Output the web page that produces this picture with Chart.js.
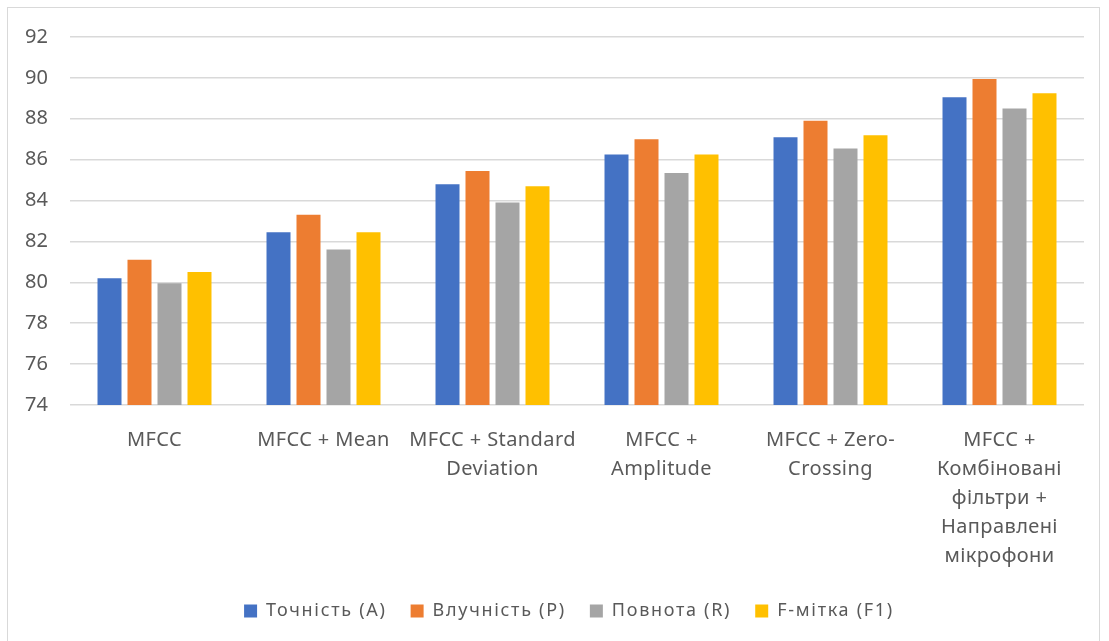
<!DOCTYPE html>
<html>
<head>
<meta charset="utf-8">
<script src="https://cdn.jsdelivr.net/npm/chart.js@4.4.1/dist/chart.umd.min.js"></script>
<style>
  html, body { margin: 0; padding: 0; background: #ffffff; }
  #wrap { position: relative; width: 1109px; height: 641px; overflow: hidden; }
  #frame { position: absolute; left: 7px; top: 7px; width: 1093px; height: 660px; border: 1px solid #d9d9d9; box-sizing: border-box; }
  canvas { position: absolute; left: 0; top: 0; }
</style>
</head>
<body>
<div id="wrap">
  <div id="frame"></div>
  <canvas id="c" width="1109" height="641"></canvas>
</div>
<script>
// Feature sets compared on the x axis
const categories = [
  ['MFCC'],
  ['MFCC + Mean'],
  ['MFCC + Standard', 'Deviation'],
  ['MFCC +', 'Amplitude'],
  ['MFCC + Zero-', 'Crossing'],
  ['MFCC +', 'Комбіновані', 'фільтри +', 'Направлені', 'мікрофони']
];

// Metric values (%) per feature set
const accuracy  = [80.2, 82.45, 84.8, 86.25, 87.1, 89.05];
const precision = [81.1, 83.3, 85.45, 87.0, 87.9, 89.95];
const recall    = [79.95, 81.6, 83.9, 85.35, 86.55, 88.5];
const f1score   = [80.5, 82.45, 84.7, 86.25, 87.2, 89.25];

const seriesNames = ['Точність (A)', 'Влучність (P)', 'Повнота (R)', 'F-мітка (F1)'];
const seriesColors = ['#4472C4', '#ED7D31', '#A5A5A5', '#FFC000'];

// y axis range and step
const yMin = 74, yMax = 92, yStep = 2;

const FONT = '"Noto Sans", sans-serif';
const TEXT = '#595959';
const LEGEND_SPACING = '1.7px';
const LEGEND_SHIFT = -8;

const seriesData = [accuracy, precision, recall, f1score];

// Draw a scale's labels with its own letter spacing
function spacedLabels(scale, spacing) {
  if (scale._spaced) return;
  scale._spaced = true;
  const orig = scale.drawLabels.bind(scale);
  scale.drawLabels = (area) => {
    const ctx = scale.ctx;
    const prev = ctx.letterSpacing;
    ctx.letterSpacing = spacing;
    orig(area);
    ctx.letterSpacing = prev;
  };
}

// Wider tracking for the legend text (measured and drawn), legend nudged left
const legendTweaks = {
  id: 'legendTweaks',
  beforeLayout(chart) { chart.ctx.letterSpacing = LEGEND_SPACING; },
  afterLayout(chart) {
    if (chart.legend) {
      chart.legend.left += LEGEND_SHIFT;
      chart.legend.right += LEGEND_SHIFT;
    }
  },
  beforeDraw(chart) { chart.ctx.letterSpacing = LEGEND_SPACING; }
};

new Chart(document.getElementById('c'), {
  type: 'bar',
  data: {
    labels: categories,
    datasets: seriesData.map((d, i) => ({
      label: seriesNames[i],
      data: d,
      backgroundColor: seriesColors[i],
      borderWidth: 0,
      barPercentage: 0.8,
      categoryPercentage: 0.71
    }))
  },
  plugins: [legendTweaks],
  options: {
    responsive: false,
    animation: false,
    layout: { padding: { left: 0, right: 25, top: 37, bottom: 11 } },
    scales: {
      x: {
        grid: { display: false, drawTicks: false },
        border: { display: false },
        ticks: {
          color: TEXT,
          font: { family: FONT, size: 20, lineHeight: 1.45 },
          padding: 21,
          maxRotation: 0,
          autoSkip: false
        },
        afterFit: s => { s.height = 173; spacedLabels(s, '0.4px'); }
      },
      y: {
        min: yMin,
        max: yMax,
        grid: { color: '#d9d9d9', lineWidth: 1.5, drawTicks: false },
        border: { display: false },
        ticks: {
          stepSize: yStep,
          color: TEXT,
          font: { family: FONT, size: 20 },
          padding: 22
        },
        afterFit: s => { s.width = 70; spacedLabels(s, '0px'); }
      }
    },
    plugins: {
      legend: {
        position: 'bottom',
        fullSize: false,
        labels: {
          color: TEXT,
          font: { family: FONT, size: 18 },
          boxWidth: 13,
          boxHeight: 13,
          padding: 24
        }
      },
      tooltip: { enabled: false }
    }
  }
});
</script>
</body>
</html>
